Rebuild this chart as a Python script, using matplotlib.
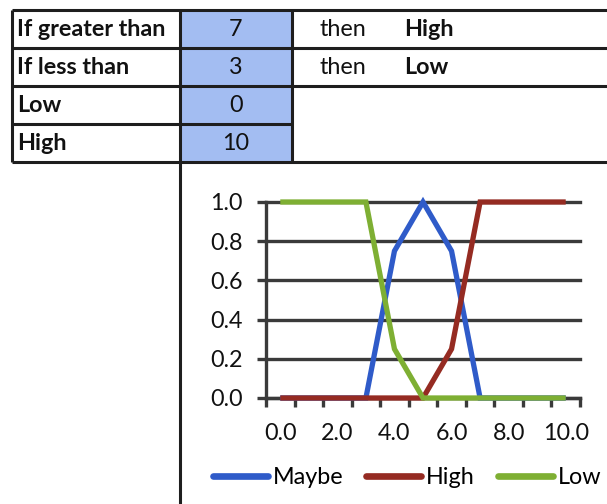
import matplotlib
matplotlib.use("Agg")
import matplotlib.pyplot as plt
from matplotlib.lines import Line2D
from matplotlib.patches import Rectangle

# Rule table
row_labels = ["If greater than", "If less than", "Low", "High"]
row_values = [7, 3, 0, 10]
rule_words = ["then", "then"]
rule_outcomes = ["High", "Low"]

# Membership curves over the input categories
x_values = [0, 1, 2, 3, 4, 5, 6, 7, 8, 9, 10]
maybe = [0, 0, 0, 0, 0.75, 1.0, 0.75, 0, 0, 0, 0]
high = [0, 0, 0, 0, 0, 0, 0.25, 1.0, 1.0, 1.0, 1.0]
low = [1.0, 1.0, 1.0, 1.0, 0.25, 0, 0, 0, 0, 0, 0]
series_names = ["Maybe", "High", "Low"]
series_colors = ["#2F5BC9", "#952B22", "#7EAF33"]

y_ticks = [0.0, 0.2, 0.4, 0.6, 0.8, 1.0]

W, H = 607, 504
plt.rcParams["font.family"] = ["Lato", "DejaVu Sans"]
FS_TABLE = 16.8
FS_CHART = 16.8

fig = plt.figure(figsize=(W / 100, H / 100), dpi=100)
fig.patch.set_facecolor("white")


def fx(x):
    return x / W


def fy(y):
    return 1 - y / H


def hline(y, x0, x1, lw=2.2, color="#1e1e1e"):
    fig.add_artist(Line2D([fx(x0), fx(x1)], [fy(y), fy(y)], lw=lw, color=color,
                          transform=fig.transFigure, solid_capstyle="butt"))


def vline(x, y0, y1, lw=2.2, color="#1e1e1e"):
    fig.add_artist(Line2D([fx(x), fx(x)], [fy(y0), fy(y1)], lw=lw, color=color,
                          transform=fig.transFigure, solid_capstyle="butt"))


# ---- table ----
row_top = 10
row_h = 38
left, col1, col2, right = 12, 180, 292, 607

fig.add_artist(Rectangle((fx(col1), fy(row_top + 4 * row_h)), fx(col2) - fx(col1),
                         fy(row_top) - fy(row_top + 4 * row_h),
                         transform=fig.transFigure, facecolor="#A3BDF2",
                         edgecolor="none", zorder=0))

for i in range(5):
    y = row_top + i * row_h
    hline(y, left, right if i in (0, 1, 2, 4) else col2)
vline(left, row_top, row_top + 4 * row_h)
vline(col1, row_top, H)
vline(col2, row_top, row_top + 4 * row_h)

for i, (lab, val) in enumerate(zip(row_labels, row_values)):
    yc = row_top + (i + 0.5) * row_h
    fig.text(fx(17), fy(yc), lab, ha="left", va="center", fontsize=FS_TABLE,
             fontweight="bold", color="#111111")
    fig.text(fx((col1 + col2) / 2), fy(yc), str(val), ha="center", va="center",
             fontsize=FS_TABLE, color="#111111")
for i, (w, o) in enumerate(zip(rule_words, rule_outcomes)):
    yc = row_top + (i + 0.5) * row_h
    fig.text(fx(320), fy(yc), w, ha="left", va="center", fontsize=FS_TABLE,
             color="#111111")
    fig.text(fx(404), fy(yc), o, ha="left", va="center", fontsize=FS_TABLE,
             fontweight="bold", color="#111111")

# ---- chart ----
ax_l, ax_r, ax_t, ax_b = 266, 580, 202, 398
ax = fig.add_axes([fx(ax_l), fy(ax_b), fx(ax_r) - fx(ax_l), fy(ax_t) - fy(ax_b)])
ax.set_facecolor("none")
axis_color = "#3a3a3a"

for vals, name, c in zip([maybe, high, low], series_names, series_colors):
    ax.plot(x_values, vals, color=c, lw=3.8, label=name, clip_on=False,
            solid_capstyle="butt", solid_joinstyle="miter", zorder=3)

ax.set_xlim(-0.5, 10.5)
ax.set_ylim(0, 1)

ax.set_yticks(y_ticks)
ax.set_yticklabels([f"{v:.1f}" for v in y_ticks])
ax.yaxis.grid(True, color=axis_color, lw=2.4)
ax.set_axisbelow(True)
for gl in ax.get_ygridlines():
    gl.set_clip_on(False)
ax.tick_params(axis="y", length=6.5, width=2.4, color=axis_color, pad=10,
               labelsize=FS_CHART, labelcolor="#111111")

# category boundaries get tick marks; every second category gets a label
bounds = [x - 0.5 for x in x_values] + [x_values[-1] + 0.5]
ax.set_xticks(bounds)
ax.set_xticklabels([""] * len(bounds))
label_x = x_values[::2]
ax.set_xticks(label_x, minor=True)
ax.set_xticklabels([f"{v:.1f}" for v in label_x], minor=True)
ax.tick_params(axis="x", which="major", length=6.5, width=2.4, color=axis_color,
               direction="out")
ax.tick_params(axis="x", which="minor", length=0, pad=18, labelsize=FS_CHART,
               labelcolor="#111111")

for s in ["top", "right"]:
    ax.spines[s].set_visible(False)
for s in ["left", "bottom"]:
    ax.spines[s].set_color(axis_color)
    ax.spines[s].set_linewidth(2.4)

leg = fig.legend(loc="center", bbox_to_anchor=(fx(407), fy(478)), ncol=3,
                 frameon=False, fontsize=FS_CHART, handlelength=2.35,
                 handletextpad=0.2, columnspacing=1.0, borderaxespad=0)
for h in leg.legend_handles:
    h.set_linewidth(4.8)
    h.set_solid_capstyle("round")

fig.savefig("out.png", dpi=100, facecolor="white")
